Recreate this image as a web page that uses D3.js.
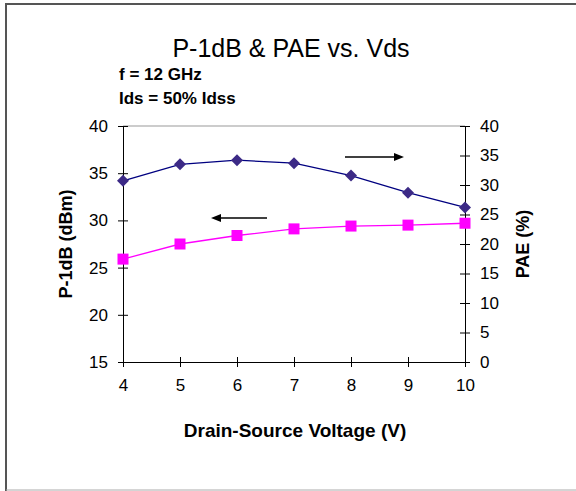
<!DOCTYPE html>
<html>
<head>
<meta charset="utf-8">
<script src="https://cdn.jsdelivr.net/npm/d3@7"></script>
<style>
  body { margin: 0; background: #fff; }
  svg text { font-family: Arial, "Liberation Sans", sans-serif; }
</style>
</head>
<body>
<div id="chart"></div>
<script>
// chart data
var vds = [4, 5, 6, 7, 8, 9, 10];
var pae = [30.7, 33.5, 34.2, 33.7, 31.6, 28.7, 26.2];      // right axis, diamonds
var p1db = [25.9, 27.5, 28.4, 29.1, 29.4, 29.5, 29.7];     // left axis, squares
var leftTicks = [15, 20, 25, 30, 35, 40];
var rightTicks = [0, 5, 10, 15, 20, 25, 30, 35, 40];

var W = 576, H = 491;
var svg = d3.select("#chart").append("svg")
    .attr("width", W)
    .attr("height", H);

// frame like the screenshot
svg.append("line").attr("x1", 6).attr("x2", 6).attr("y1", 3).attr("y2", 491)
    .attr("stroke", "#555").attr("stroke-width", 2);
svg.append("line").attr("x1", 6).attr("x2", 576).attr("y1", 4).attr("y2", 4)
    .attr("stroke", "#555").attr("stroke-width", 2);
svg.append("line").attr("x1", 6).attr("x2", 576).attr("y1", 490).attr("y2", 490)
    .attr("stroke", "#aaa").attr("stroke-width", 1);

var x = d3.scaleLinear().domain([4, 10]).range([123, 465]);
var yL = d3.scaleLinear().domain([15, 40]).range([362, 126]);
var yR = d3.scaleLinear().domain([0, 40]).range([362, 126]);

// plot area top border
svg.append("line").attr("x1", x(4)).attr("x2", x(10)).attr("y1", yL(40)).attr("y2", yL(40))
    .attr("stroke", "#999").attr("stroke-width", 1);

function styleAxis(g) {
    g.selectAll("path").attr("stroke", "#000");
    g.selectAll("line").attr("stroke", "#000");
    g.selectAll("text").attr("font-size", 17).attr("fill", "#000")
        .attr("font-family", "Arial, 'Liberation Sans', sans-serif");
}

// x axis with crossing ticks
var gx = svg.append("g").attr("transform", "translate(0," + yL(15) + ")")
    .call(d3.axisBottom(x).tickValues(vds).tickSize(5).tickSizeOuter(0).tickPadding(12).tickFormat(d3.format("d")));
styleAxis(gx);
gx.selectAll(".tick line").attr("y1", -5);

var gl = svg.append("g").attr("transform", "translate(" + x(4) + ",0)")
    .call(d3.axisLeft(yL).tickValues(leftTicks).tickSize(5).tickSizeOuter(0).tickPadding(10));
styleAxis(gl);
gl.selectAll(".tick line").attr("x1", 5);

var gr = svg.append("g").attr("transform", "translate(" + x(10) + ",0)")
    .call(d3.axisRight(yR).tickValues(rightTicks).tickSize(5).tickSizeOuter(0).tickPadding(10));
styleAxis(gr);
gr.selectAll(".tick line").attr("x1", -5);

// series
var pts = vds.map(function (v, i) { return { v: v, pae: pae[i], p: p1db[i] }; });

svg.append("path").datum(pts)
    .attr("fill", "none").attr("stroke", "#ff00ff").attr("stroke-width", 1.3)
    .attr("d", d3.line().x(function (d) { return x(d.v); }).y(function (d) { return yL(d.p); }));

svg.append("path").datum(pts)
    .attr("fill", "none").attr("stroke", "#000080").attr("stroke-width", 1.3)
    .attr("d", d3.line().x(function (d) { return x(d.v); }).y(function (d) { return yR(d.pae); }));

svg.selectAll("rect.sq").data(pts).enter().append("rect")
    .attr("class", "sq")
    .attr("x", function (d) { return x(d.v) - 5.5; })
    .attr("y", function (d) { return yL(d.p) - 5.5; })
    .attr("width", 11).attr("height", 11)
    .attr("fill", "#ff00ff");

svg.selectAll("path.dia").data(pts).enter().append("path")
    .attr("class", "dia")
    .attr("transform", function (d) { return "translate(" + x(d.v) + "," + yR(d.pae) + ")"; })
    .attr("d", "M0,-6L6,0L0,6L-6,0Z")
    .attr("fill", "#3c2a86");

// arrows
function arrow(x1, x2, y) {
    var dir = x2 > x1 ? 1 : -1;
    svg.append("line").attr("x1", x1).attr("x2", x2 - dir * 8).attr("y1", y).attr("y2", y)
        .attr("stroke", "#000").attr("stroke-width", 1.3);
    svg.append("path")
        .attr("d", "M" + x2 + "," + y + "L" + (x2 - dir * 10) + "," + (y - 4) + "L" + (x2 - dir * 10) + "," + (y + 4) + "Z")
        .attr("fill", "#000");
}
arrow(345, 404, 157);
arrow(267, 211, 218);

// titles
svg.append("text").attr("x", 291).attr("y", 57).attr("text-anchor", "middle")
    .attr("font-size", 25).text("P-1dB & PAE vs. Vds");
svg.append("text").attr("x", 119).attr("y", 80).attr("font-size", 17).attr("font-weight", "bold")
    .text("f = 12 GHz");
svg.append("text").attr("x", 119).attr("y", 104).attr("font-size", 17).attr("font-weight", "bold")
    .text("Ids = 50% Idss");

svg.append("text").attr("x", 295).attr("y", 437).attr("text-anchor", "middle")
    .attr("font-size", 19).attr("font-weight", "bold").text("Drain-Source Voltage (V)");

svg.append("text").attr("transform", "translate(72,244) rotate(-90)").attr("text-anchor", "middle")
    .attr("font-size", 18).attr("font-weight", "bold").text("P-1dB (dBm)");
svg.append("text").attr("transform", "translate(529,244) rotate(-90)").attr("text-anchor", "middle")
    .attr("font-size", 18).attr("font-weight", "bold").text("PAE (%)");
</script>
</body>
</html>
